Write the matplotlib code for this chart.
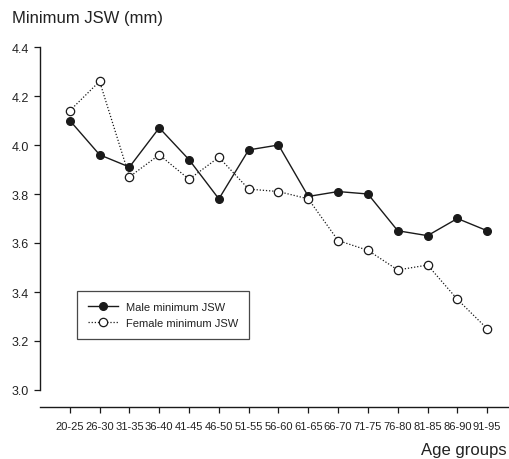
import matplotlib
matplotlib.use("Agg")
import matplotlib.pyplot as plt
import numpy as np

plt.rcParams['font.family'] = ['Liberation Sans', 'DejaVu Sans']

age_groups = ["20-25", "26-30", "31-35", "36-40", "41-45", "46-50", "51-55", "56-60",
              "61-65", "66-70", "71-75", "76-80", "81-85", "86-90", "91-95"]
male_jsw = [4.10, 3.96, 3.91, 4.07, 3.94, 3.78, 3.98, 4.00, 3.79, 3.81, 3.80, 3.65, 3.63, 3.70, 3.65]
female_jsw = [4.14, 4.26, 3.87, 3.96, 3.86, 3.95, 3.82, 3.81, 3.78, 3.61, 3.57, 3.49, 3.51, 3.37, 3.25]
y_ticks = [3.0, 3.2, 3.4, 3.6, 3.8, 4.0, 4.2, 4.4]

W, H = 510, 460
fig = plt.figure(figsize=(W / 100, H / 100), dpi=100)
ax = fig.add_axes([40 / W, (H - 391) / H, (517 - 40) / W, (391 - 48) / H])

x = np.arange(len(age_groups))
col = '#1a1a1a'
ax.plot(x, male_jsw, color=col, lw=1.0, marker='o', ms=5.5,
        mfc=col, mec=col, label='Male minimum JSW', zorder=3)
ax.plot(x, female_jsw, color=col, lw=0.9, ls=(0, (1.0, 1.5)), marker='o', ms=6,
        mfc='white', mec=col, mew=0.9, label='Female minimum JSW', zorder=3)

ax.set_xlim(-1, 15)
ax.set_ylim(3.0, 4.4)
ax.set_yticks(y_ticks)
ax.set_yticklabels([f"{v:.1f}" for v in y_ticks])
ax.set_xticks(x)
ax.set_xticklabels(age_groups)

for s in ['top', 'right']:
    ax.spines[s].set_visible(False)
ax.spines['bottom'].set_position(('outward', 17 * 72 / 100))
ax.spines['left'].set_bounds(3.0, 4.4)
for s in ['left', 'bottom']:
    ax.spines[s].set_linewidth(1.0)
    ax.spines[s].set_color(col)
ax.tick_params(axis='both', direction='out', length=4, width=0.9, color=col,
               labelcolor='#222222')
ax.tick_params(axis='y', labelsize=9, pad=4)
ax.tick_params(axis='x', labelsize=8.0, pad=6)

leg = ax.legend(loc='upper left', bbox_to_anchor=(77 / W, 1 - 292 / H),
                bbox_transform=fig.transFigure, borderaxespad=0, fontsize=8,
                frameon=True, fancybox=False, edgecolor=col, handlelength=2.7,
                handletextpad=0.7, borderpad=1.0, labelspacing=0.55)
leg.get_frame().set_linewidth(0.9)
for t in leg.get_texts():
    t.set_color('#222222')

fig.text(12 / W, 1 - 23.5 / H, "Minimum JSW (mm)", fontsize=12, color='#222222',
         ha='left', va='baseline')
fig.text(507 / W, 1 - 455 / H, "Age groups", fontsize=12, color='#222222',
         ha='right', va='baseline')

fig.savefig("out.png", dpi=100)
